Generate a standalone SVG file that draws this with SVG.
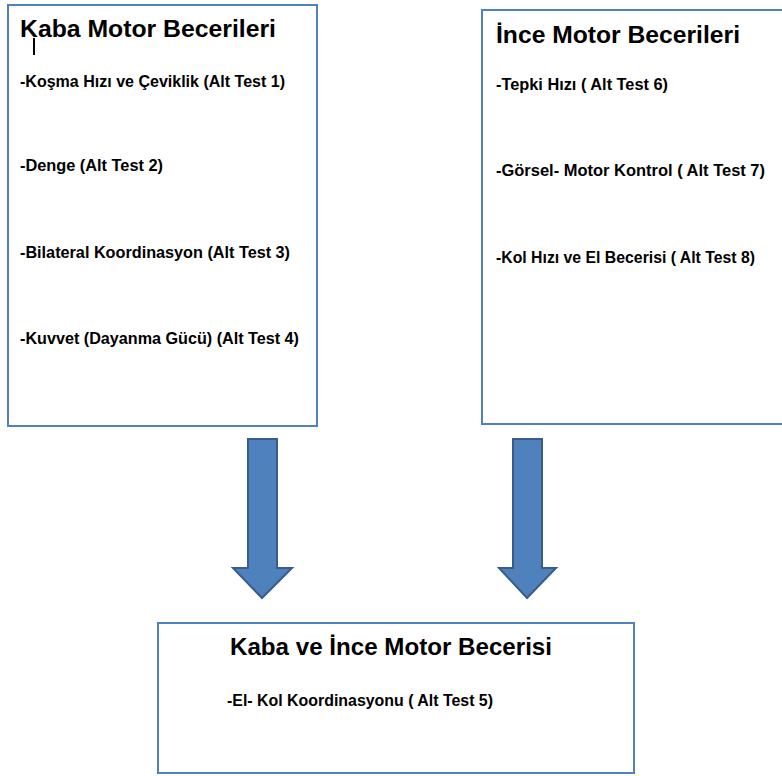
<svg xmlns="http://www.w3.org/2000/svg" width="782" height="776" viewBox="0 0 782 776">
<style>
.box{fill:#fff;stroke:#4f81bd;stroke-width:2}
.t{font-family:"Liberation Sans","Noto Sans",sans-serif;font-weight:bold;fill:#000}
.h{font-size:24px}
.i{font-size:16px}
.arr{fill:#4f81bd;stroke:#385d8a;stroke-width:2}
</style>
<rect width="782" height="776" fill="#fff"/>
<g id="kaba">
<rect class="box" x="8" y="5" width="309" height="421"/>
<text class="t h" x="20" y="37" textLength="256" lengthAdjust="spacingAndGlyphs">Kaba Motor Becerileri</text>
<line x1="34" y1="38" x2="34" y2="55" stroke="#000" stroke-width="2"/>
<text class="t i" x="20" y="87" textLength="265" lengthAdjust="spacingAndGlyphs">-Koşma Hızı ve Çeviklik (Alt Test 1)</text>
<text class="t i" x="20" y="171" textLength="143" lengthAdjust="spacingAndGlyphs">-Denge (Alt Test 2)</text>
<text class="t i" x="20" y="258" textLength="270" lengthAdjust="spacingAndGlyphs">-Bilateral Koordinasyon (Alt Test 3)</text>
<text class="t i" x="20" y="344" textLength="279" lengthAdjust="spacingAndGlyphs">-Kuvvet (Dayanma Gücü) (Alt Test 4)</text>
</g>
<g id="ince">
<rect class="box" x="482" y="10" width="310" height="414"/>
<text class="t h" x="496" y="43" textLength="244" lengthAdjust="spacingAndGlyphs">İnce Motor Becerileri</text>
<text class="t i" x="496" y="90" textLength="172" lengthAdjust="spacingAndGlyphs">-Tepki Hızı ( Alt Test 6)</text>
<text class="t i" x="496" y="176" textLength="269" lengthAdjust="spacingAndGlyphs">-Görsel- Motor Kontrol ( Alt Test 7)</text>
<text class="t i" x="496" y="263" textLength="259" lengthAdjust="spacingAndGlyphs">-Kol Hızı ve El Becerisi ( Alt Test 8)</text>
</g>
<g id="ortak">
<rect class="box" x="158" y="623" width="476" height="150"/>
<text class="t h" x="230" y="655" textLength="322" lengthAdjust="spacingAndGlyphs">Kaba ve İnce Motor Becerisi</text>
<text class="t i" x="227" y="706" textLength="266" lengthAdjust="spacingAndGlyphs">-El- Kol Koordinasyonu ( Alt Test 5)</text>
</g>
<g id="connectors">
<polygon class="arr" points="248,439 277,439 277,568 292,568 262,598 233,568 248,568"/>
<polygon class="arr" points="513,439 542,439 542,568 556,568 527,598 499,568 513,568"/>
</g>
</svg>
